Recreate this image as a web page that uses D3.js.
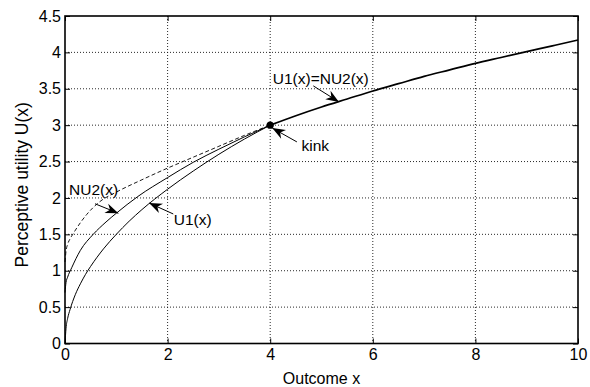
<!DOCTYPE html>
<html>
<head>
<meta charset="utf-8">
<script src="https://cdn.jsdelivr.net/npm/d3@7"></script>
<style>
  body { margin: 0; background: #fff; }
  svg text { font-family: "Liberation Sans", Arial, sans-serif; fill: #000; }
</style>
</head>
<body>
<div id="chart"></div>
<script>
// values
var xTicks = [0, 2, 4, 6, 8, 10];
var yTicks = [0, 0.5, 1, 1.5, 2, 2.5, 3, 3.5, 4, 4.5];

// lower solid curve, U1(x), below the kink
var u1_x = [0, 0.02, 0.05, 0.1, 0.2, 0.3, 0.4, 0.5, 0.75, 1, 1.25, 1.5, 2, 2.5, 3, 3.5, 4];
var u1_y = [0, 0.21, 0.34, 0.47, 0.67, 0.82, 0.95, 1.06, 1.30, 1.50, 1.68, 1.84, 2.12, 2.37, 2.60, 2.81, 3.00];

// middle solid curve, NU2(x), below the kink
var nu2_x = [0, 0.02, 0.05, 0.13, 0.3, 0.55, 0.8, 1, 1.42, 2, 2.5, 3, 3.5, 4];
var nu2_y = [0.70, 0.84, 0.91, 1.04, 1.28, 1.50, 1.67, 1.79, 2.02, 2.28, 2.49, 2.67, 2.84, 3.00];

// dashed curve below the kink
var dash_x = [0, 0.02, 0.05, 0.1, 0.16, 0.3, 0.42, 0.68, 1, 1.5, 2, 2.5, 3, 3.5, 4];
var dash_y = [1.12, 1.27, 1.36, 1.44, 1.51, 1.66, 1.77, 1.95, 2.08, 2.25, 2.41, 2.56, 2.71, 2.86, 3.00];

// common curve after the kink, U1(x)=NU2(x)
var common_x = [4, 4.5, 5, 5.5, 6, 6.5, 7, 7.5, 8, 8.5, 9, 9.5, 10];
var common_y = [3.00, 3.13, 3.25, 3.36, 3.47, 3.57, 3.67, 3.76, 3.85, 3.93, 4.01, 4.09, 4.17];

var kink = [4, 3];

// annotations: text anchor, arrow tail, arrow tip (data units)
var notes = [
  { label: "NU2(x)", tx: 0.08, ty: 2.04, x0: 0.585, y0: 1.92, x1: 1.04, y1: 1.79 },
  { label: "U1(x)", tx: 2.12, ty: 1.63, x0: 2.11, y0: 1.78, x1: 1.64, y1: 1.93 },
  { label: "kink", tx: 4.61, ty: 2.65, x0: 4.52, y0: 2.77, x1: 4.04, y1: 2.96 },
  { label: "U1(x)=NU2(x)", tx: 4.05, ty: 3.56, x0: 4.84, y0: 3.54, x1: 5.34, y1: 3.32 }
];

var margin = { top: 16, right: 12, bottom: 43.5, left: 65 };
var width = 590 - margin.left - margin.right,
  height = 387 - margin.top - margin.bottom;

var svg = d3.select("#chart").append("svg")
  .attr("width", 590)
  .attr("height", 387)
  .append("g")
  .attr("transform", "translate(" + margin.left + "," + margin.top + ")");

var x = d3.scaleLinear().domain([0, 10]).range([0, width]);
var y = d3.scaleLinear().domain([0, 4.5]).range([height, 0]);

// dotted grid
svg.append("g").selectAll("line")
  .data(xTicks.slice(1, -1))
  .enter().append("line")
  .attr("x1", d => x(d)).attr("x2", d => x(d))
  .attr("y1", 0).attr("y2", height)
  .attr("stroke", "#111").attr("stroke-width", 0.9)
  .attr("stroke-dasharray", "1,2");

svg.append("g").selectAll("line")
  .data(yTicks.slice(1, -1))
  .enter().append("line")
  .attr("y1", d => y(d)).attr("y2", d => y(d))
  .attr("x1", 0).attr("x2", width)
  .attr("stroke", "#111").attr("stroke-width", 0.9)
  .attr("stroke-dasharray", "1,2");

// axes with inward ticks (box style)
function styleAxis(g) {
  g.select(".domain").remove();
  g.selectAll(".tick line").attr("stroke", "#000");
  g.selectAll(".tick text").style("font-size", "16px");
}

svg.append("g")
  .attr("transform", "translate(0," + height + ")")
  .call(d3.axisBottom(x).tickValues(xTicks).tickSizeInner(-5).tickPadding(5).tickFormat(d3.format("d")))
  .call(styleAxis);

svg.append("g")
  .call(d3.axisLeft(y).tickValues(yTicks).tickSizeInner(-5).tickPadding(4).tickFormat(d => d))
  .call(styleAxis);

svg.append("g")
  .call(d3.axisTop(x).tickValues(xTicks).tickSizeInner(-5).tickFormat(""))
  .call(styleAxis);

svg.append("g")
  .attr("transform", "translate(" + width + ",0)")
  .call(d3.axisRight(y).tickValues(yTicks).tickSizeInner(-5).tickFormat(""))
  .call(styleAxis);

svg.append("rect")
  .attr("x", 0).attr("y", 0)
  .attr("width", width).attr("height", height)
  .attr("fill", "none").attr("stroke", "#000").attr("stroke-width", 1.6);

// curves
var line = d3.line()
  .x(d => x(d[0]))
  .y(d => y(d[1]))
  .curve(d3.curveMonotoneX);

function pts(xs, ys) {
  return xs.map((v, i) => [v, ys[i]]);
}

svg.append("path")
  .attr("d", line(pts(dash_x, dash_y)))
  .attr("fill", "none").attr("stroke", "#000").attr("stroke-width", 0.9)
  .attr("stroke-dasharray", "4,2.5");

svg.append("path")
  .attr("d", line(pts(nu2_x, nu2_y)))
  .attr("fill", "none").attr("stroke", "#000").attr("stroke-width", 1);

svg.append("path")
  .attr("d", line(pts(u1_x, u1_y)))
  .attr("fill", "none").attr("stroke", "#000").attr("stroke-width", 1);

svg.append("path")
  .attr("d", line(pts(common_x, common_y)))
  .attr("fill", "none").attr("stroke", "#000").attr("stroke-width", 1.7);

svg.append("circle")
  .attr("cx", x(kink[0])).attr("cy", y(kink[1]))
  .attr("r", 3.6).attr("fill", "#000");

// annotations with filled arrow heads
function arrowHead(px0, py0, px1, py1) {
  var a = Math.atan2(py1 - py0, px1 - px0);
  var len = 13, half = 5, notch = 9;
  var ux = Math.cos(a), uy = Math.sin(a);
  var bx = px1 - ux * len, by = py1 - uy * len;
  var nx = px1 - ux * notch, ny = py1 - uy * notch;
  return "M" + px1 + "," + py1 +
    "L" + (bx - uy * half) + "," + (by + ux * half) +
    "L" + nx + "," + ny +
    "L" + (bx + uy * half) + "," + (by - ux * half) + "Z";
}

var ann = svg.append("g");
notes.forEach(function(n) {
  ann.append("text")
    .attr("x", x(n.tx)).attr("y", y(n.ty))
    .style("font-size", "15.5px")
    .text(n.label);
  ann.append("line")
    .attr("x1", x(n.x0)).attr("y1", y(n.y0))
    .attr("x2", x(n.x1)).attr("y2", y(n.y1))
    .attr("stroke", "#000").attr("stroke-width", 1);
  ann.append("path")
    .attr("d", arrowHead(x(n.x0), y(n.y0), x(n.x1), y(n.y1)))
    .attr("fill", "#000");
});

// axis labels
svg.append("text")
  .attr("x", width / 2).attr("y", height + 40)
  .attr("text-anchor", "middle")
  .style("font-size", "16px")
  .text("Outcome x");

svg.append("text")
  .attr("transform", "translate(" + (-37) + "," + (height / 2 + 5) + ") rotate(-90)")
  .attr("text-anchor", "middle")
  .style("font-size", "17.5px")
  .text("Perceptive utility U(x)");
</script>
</body>
</html>
